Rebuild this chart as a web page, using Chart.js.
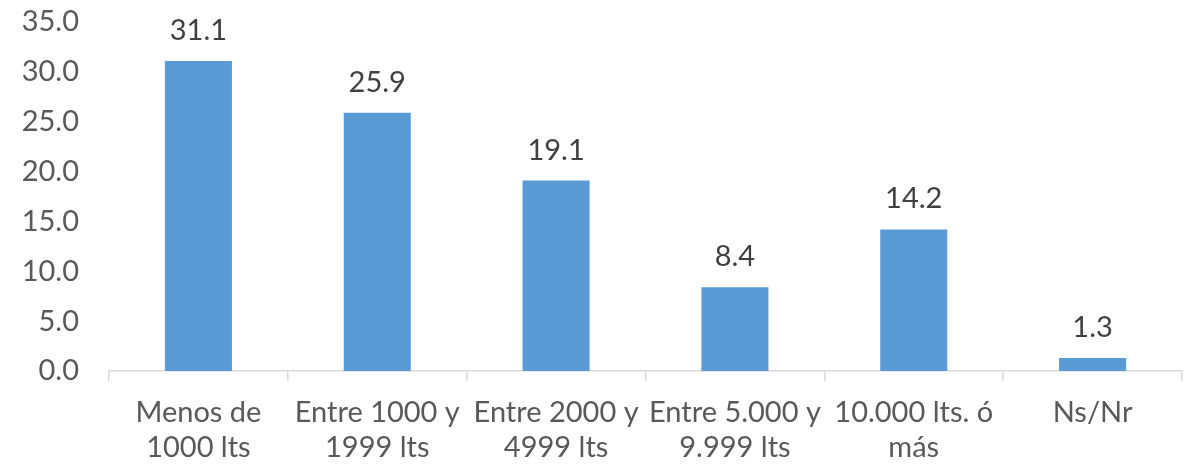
<!DOCTYPE html>
<html>
<head>
<meta charset="utf-8">
<script src="https://cdn.jsdelivr.net/npm/chart.js@4/dist/chart.umd.min.js"></script>
<style>
html,body{margin:0;padding:0;background:#fff;}
#wrap{width:1192px;height:464px;position:relative;}
</style>
</head>
<body>
<div id="wrap"><canvas id="c" width="1192" height="464"></canvas></div>
<script>
const categories = [
  ["Menos de", "1000 lts"],
  ["Entre 1000 y", "1999 lts"],
  ["Entre 2000 y", "4999 lts"],
  ["Entre 5.000 y", "9.999 lts"],
  ["10.000 lts. ó", "más"],
  ["Ns/Nr"]
];
const values = [31.1, 25.9, 19.1, 8.4, 14.2, 1.3];
const yTicks = [0, 5, 10, 15, 20, 25, 30, 35];

const FONT = "Lato, 'Open Sans', sans-serif";
const TEXT = '#595959';

const dataLabels = {
  id: 'dataLabels',
  afterDatasetsDraw(chart) {
    const ctx = chart.ctx;
    const meta = chart.getDatasetMeta(0);
    ctx.save();
    ctx.font = '29px ' + FONT;
    ctx.fillStyle = '#404040';
    ctx.textAlign = 'center';
    ctx.textBaseline = 'alphabetic';
    meta.data.forEach((bar, i) => {
      ctx.fillText(values[i].toFixed(1), bar.x, bar.y - 21);
    });
    ctx.restore();
  }
};

new Chart(document.getElementById('c'), {
  type: 'bar',
  data: {
    labels: categories,
    datasets: [{
      data: values,
      backgroundColor: '#5B9BD5',
      borderWidth: 0,
      categoryPercentage: 1.0,
      barPercentage: 0.375
    }]
  },
  options: {
    responsive: false,
    animation: false,
    devicePixelRatio: 1,
    layout: { padding: { top: 0, right: 10, left: 0, bottom: 0 } },
    plugins: { legend: { display: false }, tooltip: { enabled: false } },
    scales: {
      x: {
        grid: { display: true, drawOnChartArea: false, drawTicks: true, tickLength: 10, color: '#d9d9d9', offset: true, lineWidth: 1.5 },
        border: { display: true, color: '#d9d9d9', width: 1.5 },
        ticks: { color: TEXT, font: { family: FONT, size: 29, lineHeight: 1.22 }, maxRotation: 0, autoSkip: false, padding: 14 },
        afterFit(scale) { scale.height = 93; }
      },
      y: {
        min: 0, max: 35,
        afterBuildTicks(axis) { axis.ticks = yTicks.map(v => ({ value: v })); },
        grid: { display: false, drawTicks: false },
        border: { display: false },
        ticks: { color: TEXT, font: { family: FONT, size: 29 }, padding: 30, callback: v => Number(v).toFixed(1) },
        afterFit(scale) { scale.width = 109; scale.paddingTop = 22; scale.paddingBottom = 0; }
      }
    }
  },
  plugins: [dataLabels]
});
</script>
</body>
</html>
